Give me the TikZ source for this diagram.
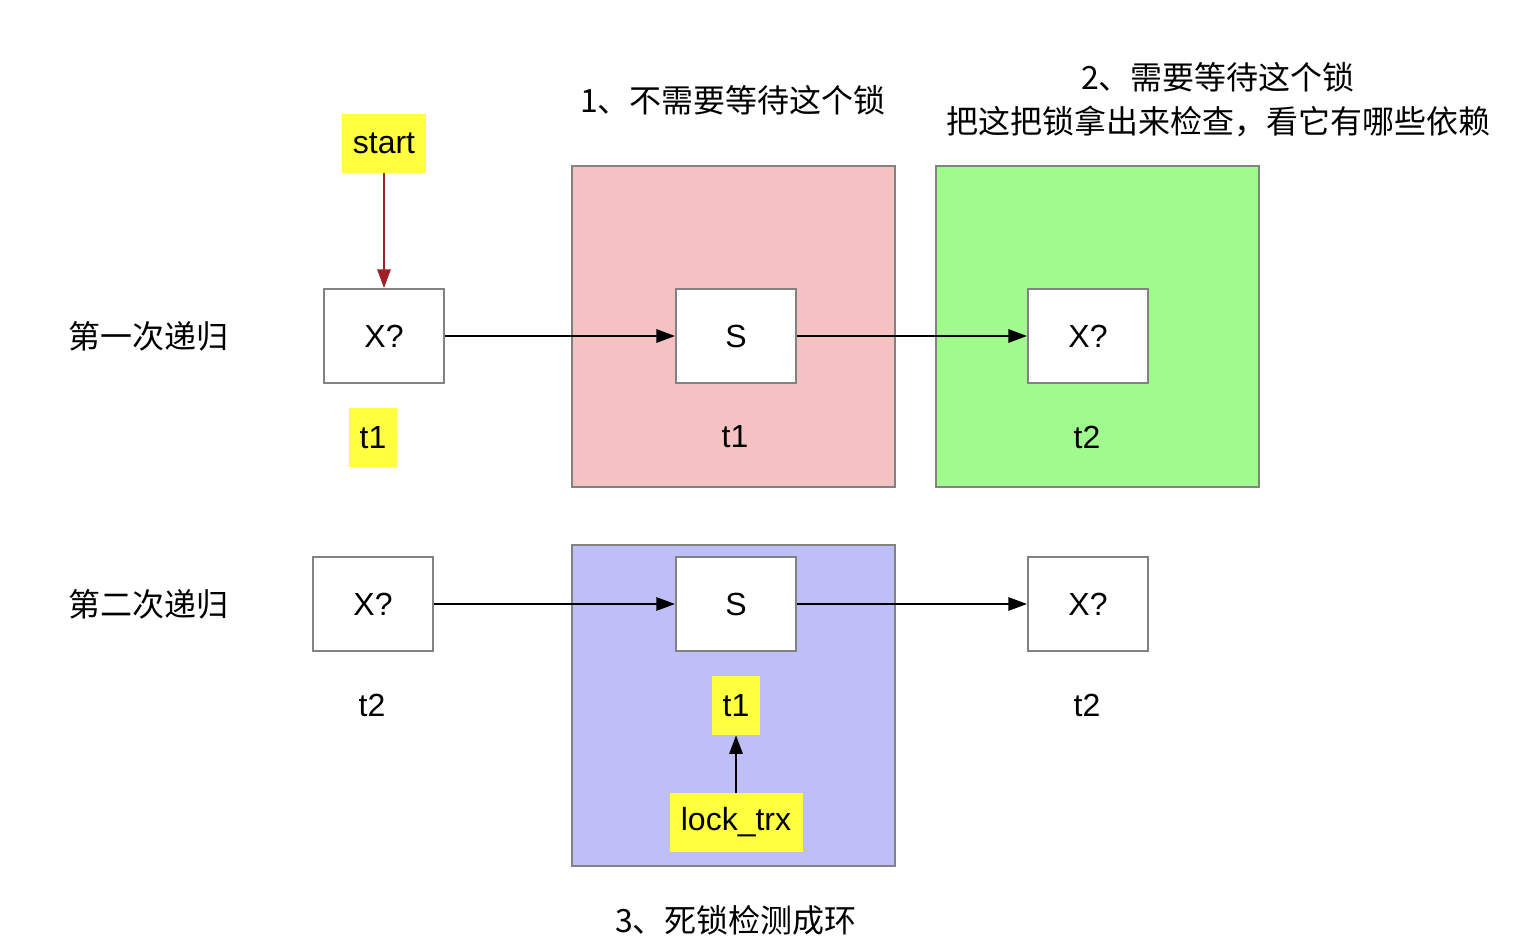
\documentclass[tikz,border=0pt]{standalone}
\usepackage{fontspec}
\setmainfont{Liberation Sans}
\newfontfamily\cjk{Noto Sans CJK SC}
\usetikzlibrary{arrows.meta}
\definecolor{hl}{RGB}{255,255,64}
\definecolor{pinkf}{RGB}{244,194,194}
\definecolor{greenf}{RGB}{161,250,141}
\definecolor{bluef}{RGB}{191,191,248}
\definecolor{bord}{RGB}{130,130,130}
\definecolor{darkred}{RGB}{160,32,40}
\begin{document}
\begin{tikzpicture}[x=0.75pt,y=-0.75pt,
  every node/.style={font=\fontsize{24pt}{30pt}\selectfont, inner sep=0pt},
  cell/.style={draw=bord, line width=1.5pt, fill=white, minimum width=90pt, minimum height=70.5pt},
  area/.style={draw=bord, line width=1.2pt, minimum width=242.25pt, minimum height=240.75pt},
  tag/.style={fill=hl, minimum height=44.25pt},
  lbl/.style={font=\cjk\fontsize{24pt}{33pt}\selectfont, align=center},
  conn/.style={line width=1.5pt, -{Triangle[length=14pt,width=10pt]}}
]
\useasboundingbox (0,0) rectangle (1528,950);
% areas
\node[area, fill=pinkf] (pink) at (733.5,326.5) {};
\node[area, fill=greenf] (green) at (1097.5,326.5) {};
\node[area, fill=bluef] (blue) at (733.5,705.5) {};
% titles
\node[lbl] (title1) at (733,100) {1、不需要等待这个锁};
\node[lbl] (title2) at (1218,100) {2、需要等待这个锁\\把这把锁拿出来检查，看它有哪些依赖};
\node[lbl] (title3) at (736,920) {3、死锁检测成环};
\node[lbl] (row1) at (148,336) {第一次递归};
\node[lbl] (row2) at (148,604) {第二次递归};
% row 1
\node[tag, minimum width=63pt] (start) at (384,143.5) {start};
\node[cell] (x1) at (384,336) {X?};
\node[tag, minimum width=36pt] (t1a) at (373,437.5) {t1};
\node[cell] (s1) at (736,336) {S};
\node (t1b) at (735,437) {t1};
\node[cell] (x2) at (1088,336) {X?};
\node (t2a) at (1087,437) {t2};
% row 2
\node[cell] (x3) at (373,604) {X?};
\node (t2b) at (372,705) {t2};
\node[cell] (s2) at (736,604) {S};
\node[tag, minimum width=36pt] (t1c) at (736,705.5) {t1};
\node[tag, minimum width=99.75pt] (lock) at (736,822.5) {lock\_trx};
\node[cell] (x4) at (1088,604) {X?};
\node (t2c) at (1087,705) {t2};
% connectors
\draw[conn, draw=darkred, -{Triangle[length=14pt,width=10pt,fill=darkred]}] (start.south) -- (x1.north);
\draw[conn] (x1.east) -- (s1.west);
\draw[conn] (s1.east) -- (x2.west);
\draw[conn] (x3.east) -- (s2.west);
\draw[conn] (s2.east) -- (x4.west);
\draw[conn] (lock.north) -- (t1c.south);
\end{tikzpicture}
\end{document}
